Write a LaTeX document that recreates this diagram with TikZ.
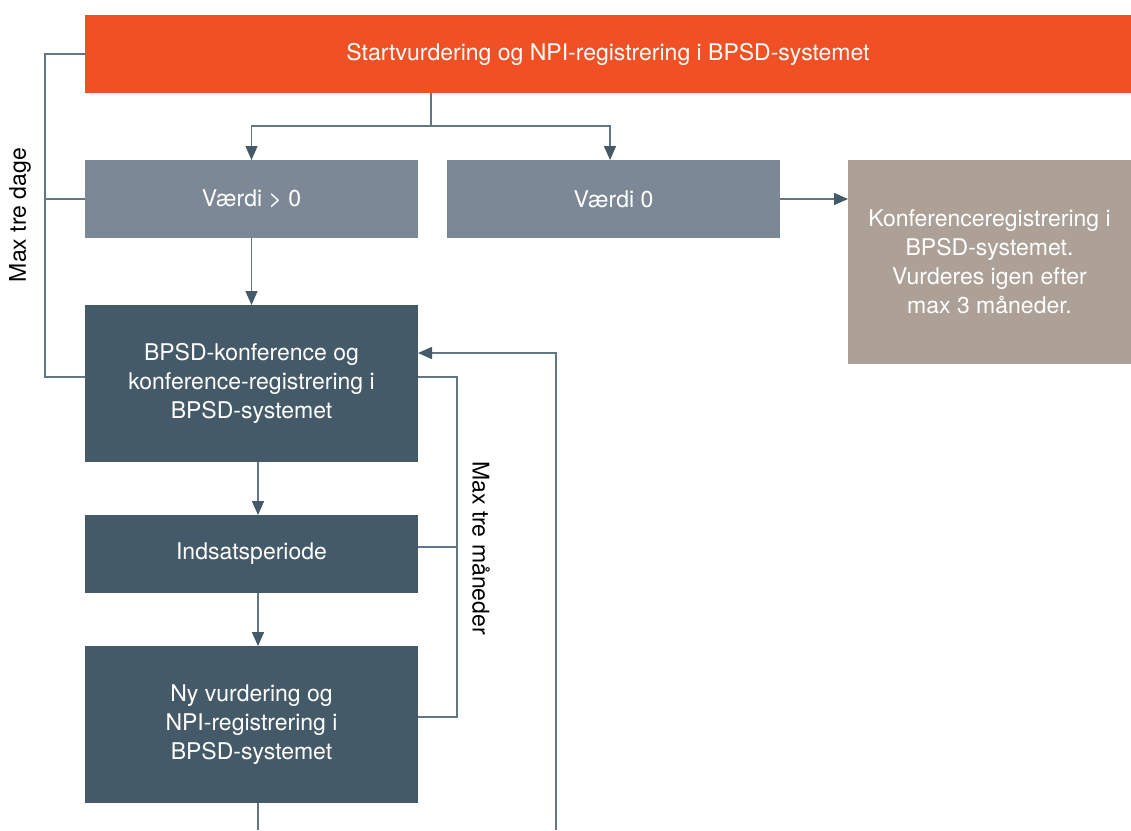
\documentclass[tikz,border=0pt]{standalone}
\usepackage{fontspec}
\setmainfont{TeX Gyre Heros}
\usetikzlibrary{positioning}
\usetikzlibrary{arrows.meta}
\definecolor{bporange}{HTML}{F05023}
\definecolor{bplight}{HTML}{7D8896}
\definecolor{bpdark}{HTML}{455A69}
\definecolor{bptaupe}{HTML}{ADA197}
\definecolor{bpline}{HTML}{627684}
\tikzstyle{start} = [rectangle, minimum width=1046pt, minimum height=78pt, inner sep=0pt, outer sep=0pt, text centered, fill=bporange, text=white]
\tikzstyle{value} = [rectangle, minimum width=333pt, minimum height=78pt, inner sep=0pt, outer sep=0pt, text centered, fill=bplight, text=white]
\tikzstyle{stage} = [rectangle, minimum width=333pt, minimum height=78pt, inner sep=0pt, outer sep=0pt, align=center, fill=bpdark, text=white]
\tikzstyle{result} = [rectangle, minimum width=283pt, minimum height=204pt, inner sep=0pt, outer sep=0pt, align=center, fill=bptaupe, text=white]
\tikzstyle{arrow} = [line width=1.5pt, draw=bpline, -{Triangle[length=14pt, width=12pt, color=bpdark]}]
\tikzstyle{bracket} = [line width=1.5pt, draw=bpline]

\begin{document}
\begin{tikzpicture}[x=1pt, y=-1pt, font=\fontsize{23}{29}\selectfont]

        \useasboundingbox (0,0) rectangle (1131,830);

        % Start box on top
        \node[start] (start) at (608,54) {Startvurdering og NPI-registrering i BPSD-systemet};

        % Value boxes
        \node[value, below right=67pt and 0pt of start.south west] (vpos) {Værdi > 0};
        \node[value, right=29pt of vpos] (vzero) {Værdi 0};
        \node[result, right=68pt of vzero.north east, anchor=north west] (konf) {Konferenceregistrering i\\BPSD-systemet.\\Vurderes igen efter\\max 3 måneder.};

        % Conference and follow-up boxes
        \node[stage, minimum height=157pt, below=67pt of vpos] (bpsd) {BPSD-konference og\\konference-registrering i\\BPSD-systemet};
        \node[stage, below=53pt of bpsd] (indsats) {Indsatsperiode};
        \node[stage, minimum height=157pt, below=53pt of indsats] (nyvurd) {Ny vurdering og\\NPI-registrering i\\BPSD-systemet};

        % Helper points
        \coordinate (split) at (431,126);
        \coordinate (daysbar) at (45,0);
        \coordinate (monthbar) at (457,0);
        \coordinate (outA) at (258,830);
        \coordinate (outB) at (556,830);
        \coordinate (back) at (556,353);
        \coordinate (bpsdrow) at ([yshift=6.5pt]bpsd.east);
        \coordinate (nyrow) at ([yshift=7.5pt]nyvurd.east);

        % Connections
        \draw[bracket] (start.south -| split) -- (split);
        \draw[arrow] (split) -| (vpos.north);
        \draw[arrow] (split) -| ([xshift=-3.5pt]vzero.north);
        \draw[arrow] (vzero.east) -- (vzero.east -| konf.west);
        \draw[arrow] (vpos.south) -- (bpsd.north);
        \draw[arrow] ([xshift=6.5pt]bpsd.south) -- ([xshift=6.5pt]indsats.north);
        \draw[arrow] ([xshift=6.5pt]indsats.south) -- ([xshift=6.5pt]nyvurd.north);
        \draw[bracket] ([xshift=6.5pt]nyvurd.south) -- (outA);
        \draw[arrow] (outB) -- (back) -- (back -| bpsd.east);

        % Max tre dage
        \draw[bracket] (start.west) -- (start.west -| daysbar) |- ([yshift=6.5pt]bpsd.west);
        \draw[bracket] (vpos.west) -- (vpos.west -| daysbar);
        \node[rotate=90] (days) at (20,215) {Max tre dage};

        % Max tre maaneder
        \draw[bracket] (bpsdrow) -- (bpsdrow -| monthbar) -- (nyrow -| monthbar) -- (nyrow);
        \draw[bracket] ([yshift=7pt]indsats.east) -- ([yshift=7pt]indsats.east -| monthbar);
        \node[rotate=-90] (months) at (481,548) {Max tre måneder};

    \end{tikzpicture}
\end{document}
